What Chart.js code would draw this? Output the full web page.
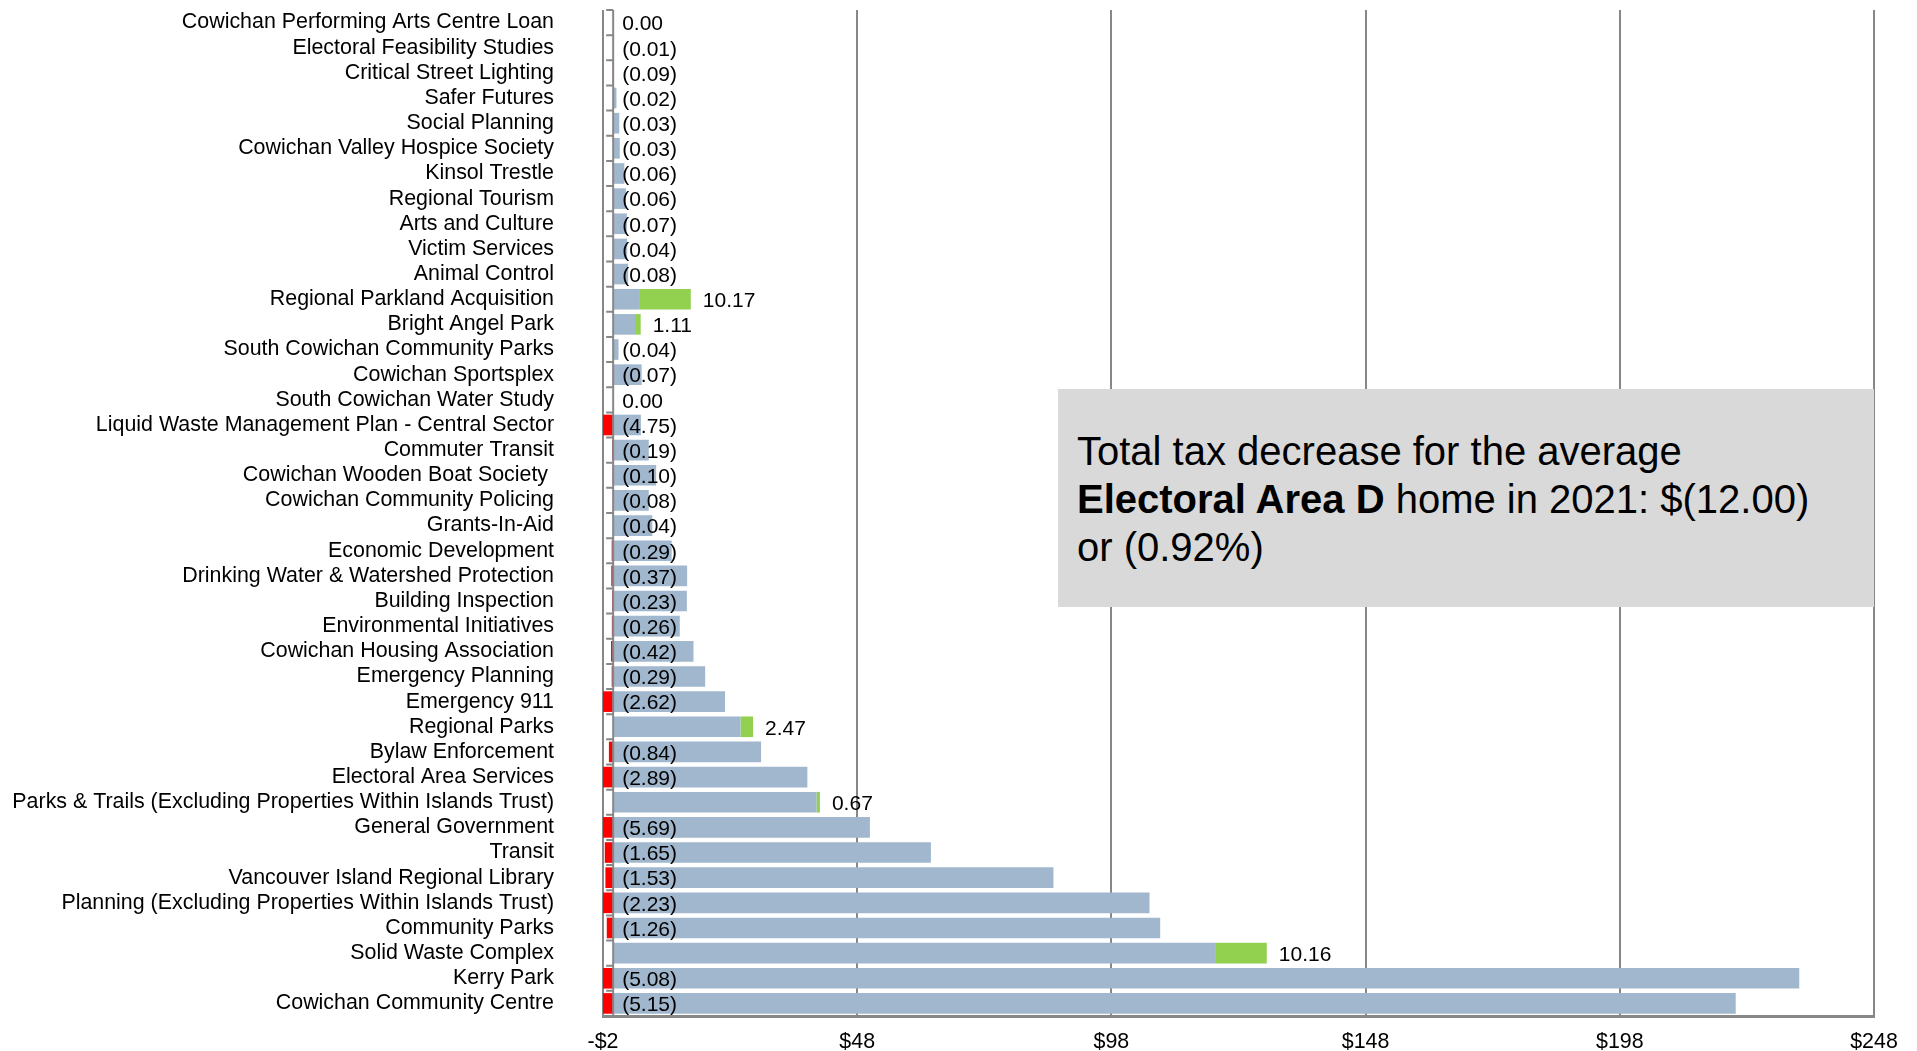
<!DOCTYPE html>
<html>
<head>
<meta charset="utf-8">
<script src="https://cdn.jsdelivr.net/npm/chart.js@4"></script>
<style>
  html, body { margin: 0; padding: 0; background: #ffffff; }
  #wrap { position: relative; width: 1917px; height: 1051px; }
  #note {
    position: absolute; left: 1058px; top: 389px; width: 797px; height: 180px;
    padding: 38px 0 0 19px; background: #d9d9d9;
    font-family: "Liberation Sans", Arial, sans-serif; font-size: 40px; line-height: 48px;
    color: #000; white-space: nowrap;
  }
</style>
</head>
<body>
<div id="wrap">
  <canvas id="c" width="1917" height="1051"></canvas>
  <div id="note">Total tax decrease for the average<br><b>Electoral Area D</b> home in 2021: $(12.00)<br>or (0.92%)</div>
</div>
<script>
const categories = [
  "Cowichan Performing Arts Centre Loan",
  "Electoral Feasibility Studies",
  "Critical Street Lighting",
  "Safer Futures",
  "Social Planning",
  "Cowichan Valley Hospice Society",
  "Kinsol Trestle",
  "Regional Tourism",
  "Arts and Culture",
  "Victim Services",
  "Animal Control",
  "Regional Parkland Acquisition",
  "Bright Angel Park",
  "South Cowichan Community Parks",
  "Cowichan Sportsplex",
  "South Cowichan Water Study",
  "Liquid Waste Management Plan - Central Sector",
  "Commuter Transit",
  "Cowichan Wooden Boat Society ",
  "Cowichan Community Policing",
  "Grants-In-Aid",
  "Economic Development",
  "Drinking Water & Watershed Protection",
  "Building Inspection",
  "Environmental Initiatives",
  "Cowichan Housing Association",
  "Emergency Planning",
  "Emergency 911",
  "Regional Parks",
  "Bylaw Enforcement",
  "Electoral Area Services",
  "Parks & Trails (Excluding Properties Within Islands Trust)",
  "General Government",
  "Transit",
  "Vancouver Island Regional Library",
  "Planning (Excluding Properties Within Islands Trust)",
  "Community Parks",
  "Solid Waste Complex",
  "Kerry Park",
  "Cowichan Community Centre"
];

// Base (2021 cost excluding any increase) per service, $
const baseValues = [
  0, 0, 0, 0.65, 1.2, 1.3, 2.2, 2.5, 2.7, 2.75,
  2.95, 5.1, 4.3, 1.05, 5.6, 0, 5.45, 7.0, 8.45, 7.0,
  7.7, 11.5, 14.55, 14.5, 13.1, 15.8, 18.1, 22.0, 25.05, 29.1,
  38.2, 40.0, 50.5, 62.5, 86.6, 105.5, 107.6, 118.4, 233.3, 220.8
];

// Change from 2020 to 2021, $
const changeValues = [
  0.00, -0.01, -0.09, -0.02, -0.03, -0.03, -0.06, -0.06, -0.07, -0.04,
  -0.08, 10.17, 1.11, -0.04, -0.07, 0.00, -4.75, -0.19, -0.10, -0.08,
  -0.04, -0.29, -0.37, -0.23, -0.26, -0.42, -0.29, -2.62, 2.47, -0.84,
  -2.89, 0.67, -5.69, -1.65, -1.53, -2.23, -1.26, 10.16, -5.08, -5.15
];

const tickValues = [-2, 48, 98, 148, 198, 248];

const increaseValues = changeValues.map(v => v > 0 ? v : 0);
const decreaseValues = changeValues.map(v => v < 0 ? v : 0);

const FONT = '"Liberation Sans", Arial, sans-serif';
const GRID = '#878787';

function fmtChange(v) {
  const s = Math.abs(v).toFixed(2);
  return v < 0 ? '(' + s + ')' : s;
}

const overlay = {
  id: 'overlay',
  afterDatasetsDraw(chart) {
    const ctx = chart.ctx;
    const xs = chart.scales.x, ys = chart.scales.y;
    const area = chart.chartArea;
    const x0 = xs.getPixelForValue(0);
    ctx.save();
    // category axis at zero
    ctx.strokeStyle = GRID;
    ctx.lineWidth = 2;
    ctx.beginPath();
    ctx.moveTo(x0, area.top);
    ctx.lineTo(x0, area.bottom);
    ctx.stroke();
    // tick marks at category boundaries
    const n = categories.length;
    const step = (area.bottom - area.top) / n;
    ctx.beginPath();
    for (let i = 0; i <= n; i++) {
      const y = area.top + i * step;
      ctx.moveTo(x0 - 7, y);
      ctx.lineTo(x0, y);
    }
    ctx.stroke();
    // value labels
    ctx.fillStyle = '#000';
    ctx.font = '21px ' + FONT;
    ctx.textBaseline = 'middle';
    ctx.textAlign = 'left';
    for (let i = 0; i < n; i++) {
      const v = changeValues[i];
      const y = ys.getPixelForValue(i) + 2;
      let x;
      if (v > 0) {
        x = xs.getPixelForValue(baseValues[i] + increaseValues[i]) + 12;
      } else {
        x = x0 + 9;
      }
      ctx.fillText(fmtChange(v), x, y);
    }
    ctx.restore();
  }
};

new Chart(document.getElementById('c'), {
  type: 'bar',
  data: {
    labels: categories,
    datasets: [
      { label: 'Base', data: baseValues, backgroundColor: '#a1b7ce', stack: 's' },
      { label: 'Increase', data: increaseValues, backgroundColor: '#92d050', stack: 's' },
      { label: 'Decrease', data: decreaseValues, backgroundColor: '#ff0000', stack: 's' }
    ]
  },
  options: {
    indexAxis: 'y',
    responsive: false,
    animation: false,
    layout: { padding: { top: 10, right: 43, left: 0, bottom: 0 } },
    plugins: { legend: { display: false }, tooltip: { enabled: false } },
    datasets: { bar: { barPercentage: 0.82, categoryPercentage: 1.0, borderWidth: 0 } },
    scales: {
      x: {
        stacked: true,
        min: -2,
        max: 248,
        afterBuildTicks(scale) { scale.ticks = tickValues.map(v => ({ value: v })); },
        afterFit(scale) { scale.height = 35; },
        ticks: {
          color: '#000',
          font: { family: FONT, size: 21.4 },
          padding: 13,
          maxRotation: 0,
          callback: v => (v < 0 ? '-$' + Math.abs(v) : '$' + v)
        },
        grid: { color: GRID, lineWidth: 2, drawTicks: false },
        border: { color: GRID, width: 3 }
      },
      y: {
        stacked: true,
        afterFit(scale) { scale.width = 603; scale.paddingTop = 0; scale.paddingBottom = 0; },
        ticks: {
          color: '#000',
          font: { family: FONT, size: 21.4 },
          padding: 0,
          autoSkip: false
        },
        grid: { display: false, drawTicks: true, tickLength: 49 },
        border: { display: false }
      }
    }
  },
  plugins: [overlay]
});
</script>
</body>
</html>
